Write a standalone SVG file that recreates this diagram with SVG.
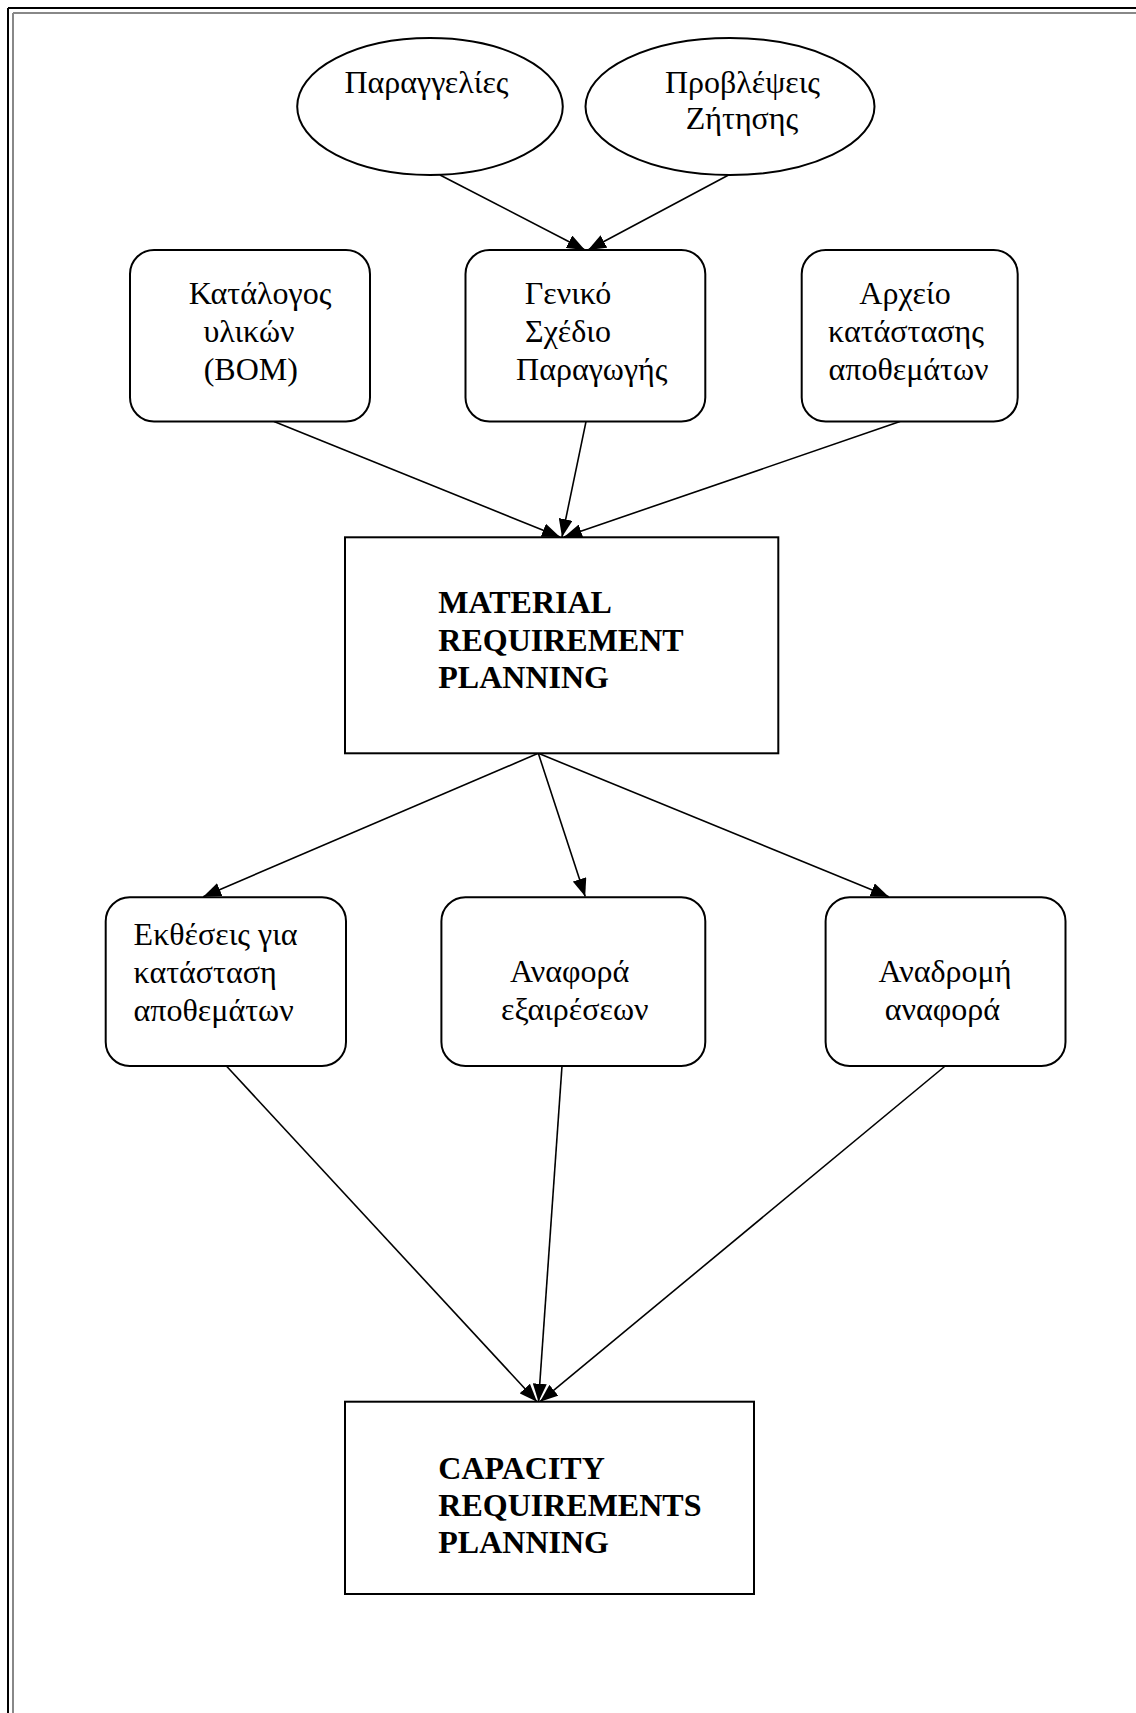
<svg xmlns="http://www.w3.org/2000/svg" width="1136" height="1713" viewBox="0 0 1136 1713">
<style>
.t{font-family:"Liberation Serif","Times New Roman",serif;font-size:32px;fill:#000}
.c{text-anchor:middle}
.b{font-weight:bold}
.shape{fill:#fff;stroke:#000;stroke-width:2}
.conn line{stroke:#000;stroke-width:1.6;marker-end:url(#ah)}
</style>
<defs>
<marker id="ah" markerUnits="userSpaceOnUse" markerWidth="19" markerHeight="14" refX="18" refY="7" orient="auto">
<path d="M0,0 L18,7 L0,14 z" fill="#000"/>
</marker>
</defs>
<rect x="0" y="0" width="1136" height="1713" fill="#fff"/>
<g id="frame">
<line x1="8" y1="8" x2="1136" y2="8" stroke="#000" stroke-width="2"/>
<line x1="8" y1="8" x2="8" y2="1713" stroke="#000" stroke-width="2"/>
<line x1="13" y1="13" x2="1136" y2="13" stroke="#888" stroke-width="2"/>
<line x1="13" y1="13" x2="13" y2="1713" stroke="#888" stroke-width="2"/>
</g>
<g class="conn" id="connectors">
<line x1="440" y1="175" x2="585" y2="250"/>
<line x1="728.6" y1="175" x2="588" y2="250"/>
<line x1="274" y1="421.6" x2="560" y2="537"/>
<line x1="586" y1="421.6" x2="562" y2="537"/>
<line x1="900" y1="421.6" x2="564" y2="537"/>
<line x1="538.3" y1="753.3" x2="203.2" y2="896.7"/>
<line x1="538.3" y1="753.3" x2="585.2" y2="896.5"/>
<line x1="538.3" y1="753.3" x2="888.8" y2="896.7"/>
<line x1="226.4" y1="1066" x2="537" y2="1401.7"/>
<line x1="562" y1="1066" x2="538.5" y2="1401.7"/>
<line x1="945.2" y1="1066" x2="540" y2="1401.7"/>
</g>
<g id="orders">
<ellipse class="shape" cx="430" cy="106.5" rx="132.8" ry="68.5"/>
<text class="t c" x="426.5" y="93">Παραγγελίες</text>
</g>
<g id="forecasts">
<ellipse class="shape" cx="730" cy="106.5" rx="144.5" ry="68.5"/>
<text class="t c" x="742.5" y="93">Προβλέψεις</text>
<text class="t c" x="742" y="129">Ζήτησης</text>
</g>
<g id="bom">
<rect class="shape" x="130" y="250" width="240" height="171.6" rx="24" ry="24"/>
<text class="t c" x="260" y="304">Κατάλογος</text>
<text class="t c" x="249" y="342">υλικών</text>
<text class="t c" x="250.8" y="380">(BOM)</text>
</g>
<g id="mps">
<rect class="shape" x="465.5" y="250" width="239.8" height="171.6" rx="24" ry="24"/>
<text class="t c" x="568" y="304">Γενικό</text>
<text class="t c" x="568" y="342">Σχέδιο</text>
<text class="t c" x="591.8" y="380">Παραγωγής</text>
</g>
<g id="inventory">
<rect class="shape" x="801.7" y="250" width="216" height="171.6" rx="24" ry="24"/>
<text class="t c" x="905" y="304">Αρχείο</text>
<text class="t c" x="906" y="342">κατάστασης</text>
<text class="t c" x="908.5" y="380">αποθεμάτων</text>
</g>
<g id="mrp">
<rect class="shape" x="345" y="537.3" width="433.3" height="216"/>
<text class="t b" x="438.3" y="613.3">MATERIAL</text>
<text class="t b" x="438.3" y="650.7">REQUIREMENT</text>
<text class="t b" x="438.3" y="688">PLANNING</text>
</g>
<g id="inv-reports">
<rect class="shape" x="105.7" y="897.3" width="240.3" height="168.7" rx="24" ry="24"/>
<text class="t" x="133.6" y="945">Εκθέσεις για</text>
<text class="t" x="133.6" y="983">κατάσταση</text>
<text class="t" x="133.6" y="1021">αποθεμάτων</text>
</g>
<g id="exceptions">
<rect class="shape" x="441.4" y="897.3" width="263.9" height="168.7" rx="24" ry="24"/>
<text class="t c" x="569.7" y="981.7">Αναφορά</text>
<text class="t c" x="574.7" y="1019.7">εξαιρέσεων</text>
</g>
<g id="pegging">
<rect class="shape" x="825.6" y="897.3" width="239.9" height="168.7" rx="24" ry="24"/>
<text class="t c" x="945" y="981.7">Αναδρομή</text>
<text class="t c" x="942.3" y="1019.7">αναφορά</text>
</g>
<g id="crp">
<rect class="shape" x="345" y="1401.7" width="409" height="192.3"/>
<text class="t b" x="438.3" y="1479.3">CAPACITY</text>
<text class="t b" x="438.3" y="1516">REQUIREMENTS</text>
<text class="t b" x="438.3" y="1553.3">PLANNING</text>
</g>
</svg>
